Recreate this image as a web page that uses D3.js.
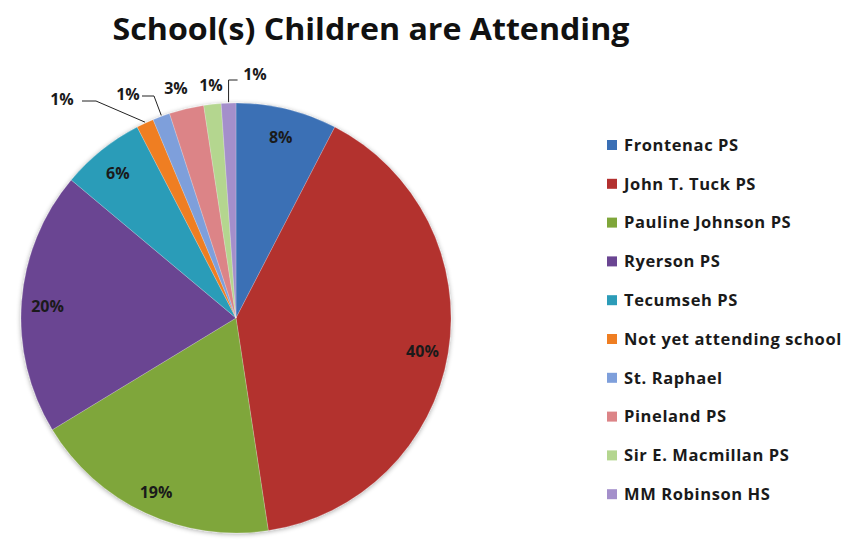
<!DOCTYPE html>
<html><head><meta charset="utf-8">
<script src="https://cdn.jsdelivr.net/npm/d3@7"></script>
<style>body{margin:0;background:#fff}svg{display:block}</style>
</head><body>
<svg id="chart" width="846" height="540"></svg>
<script>
const title = "School(s) Children are Attending";
const categories = ["Frontenac PS","John T. Tuck PS","Pauline Johnson PS","Ryerson PS","Tecumseh PS","Not yet attending school","St. Raphael","Pineland PS","Sir E. Macmillan PS","MM Robinson HS"];
const values = [7.6, 40.0, 18.7, 19.8, 6.3, 1.3, 1.3, 2.6, 1.3, 1.1];
const colors = ["#3A6FB5","#B3302F","#7FA63A","#6A4592","#2C9CB8","#EF7E22","#7E9FDB","#DC8487","#B4D68F","#A48FCB"];

const svg = d3.select("#chart");
const font = "'Open Sans', Lato, sans-serif";
const cx = 236, cy = 318, R = 215;

const t = svg.append("text").attr("x", 371).attr("y", 40).attr("text-anchor","middle")
  .attr("font-family", font).attr("font-weight", "bold").attr("font-size", 31)
  .attr("fill", "#111").text(title);
const tw = t.node().getComputedTextLength();
if (Math.abs(tw - 517) > 4) t.attr("textLength", 517).attr("lengthAdjust", "spacingAndGlyphs");

const total = d3.sum(values);
const data = categories.map((c,i)=>({name:c, value:values[i], color:colors[i]}));
const pie = d3.pie().value(d=>d.value).sort(null);
const arcs = pie(data);
const arc = d3.arc().innerRadius(0).outerRadius(R);

const defs = svg.append("defs");
const f = defs.append("filter").attr("id","sh").attr("x","-10%").attr("y","-10%").attr("width","120%").attr("height","120%");
f.append("feGaussianBlur").attr("in","SourceAlpha").attr("stdDeviation",2.5);
f.append("feOffset").attr("dx",0).attr("dy",1).attr("result","b");
f.append("feComponentTransfer").append("feFuncA").attr("type","linear").attr("slope",0.35);
const m = f.append("feMerge"); m.append("feMergeNode"); m.append("feMergeNode").attr("in","SourceGraphic");

const g = svg.append("g").attr("transform", `translate(${cx},${cy})`);
g.append("g").attr("filter","url(#sh)").selectAll("path").data(arcs).join("path")
  .attr("d", arc).attr("fill", d=>d.data.color)
  .attr("stroke", "rgba(255,255,255,0.35)").attr("stroke-width", 0.6);

const pct = d => Math.round(d.data.value/total*100) + "%";
const inside = arcs.filter(d => d.data.value/total > 0.05);
g.selectAll("text.in").data(inside).join("text").attr("class","in")
  .attr("transform", d => {
    const a = (d.startAngle + d.endAngle)/2;
    return `translate(${Math.sin(a)*189},${-Math.cos(a)*189 + 3})`;
  })
  .attr("text-anchor","middle").attr("dy","0.35em")
  .attr("font-family", font).attr("font-weight","bold").attr("font-size", 16)
  .attr("fill","#1a1a1a").text(pct);

const outsideLabels = [
  {i:5, x:62,  y:99, line:[[82,101],[96,101]]},
  {i:6, x:128, y:94, line:[[142,96],[154,96]]},
  {i:7, x:176, y:88, line:null},
  {i:8, x:211, y:85, line:null},
  {i:9, x:255, y:74, line:"up"}
];
outsideLabels.forEach(o => {
  const d = arcs[o.i];
  const a = (d.startAngle + d.endAngle)/2;
  const ex = cx + Math.sin(a)*R, ey = cy - Math.cos(a)*R;
  let pts = null;
  if (o.line === "up") {
    pts = [[ex, ey-1],[ex, 80],[ex+9, 80]];
  } else if (o.line) {
    pts = [o.line[0], o.line[1], [ex, ey-1]];
  }
  if (pts) svg.append("path").attr("d", d3.line()(pts)).attr("fill","none")
      .attr("stroke","#222").attr("stroke-width",1);
  svg.append("text").attr("x", o.x).attr("y", o.y).attr("text-anchor","middle").attr("dy","0.35em")
    .attr("font-family", font).attr("font-weight","bold").attr("font-size", 16)
    .attr("fill","#1a1a1a").text(pct(d));
});

const lg = svg.append("g").attr("transform","translate(607,145)");
const rows = lg.selectAll("g").data(data).join("g").attr("transform",(d,i)=>`translate(0,${i*38.8})`);
rows.append("rect").attr("x",0).attr("y",-5).attr("width",10).attr("height",10).attr("fill",d=>d.color);
rows.append("text").attr("x",17).attr("dy","0.35em")
  .attr("font-family", font).attr("font-weight","bold").attr("font-size",16.5)
  .attr("letter-spacing", 0.6)
  .attr("fill","#1a1a1a").text(d=>d.name);
</script>
</body></html>
